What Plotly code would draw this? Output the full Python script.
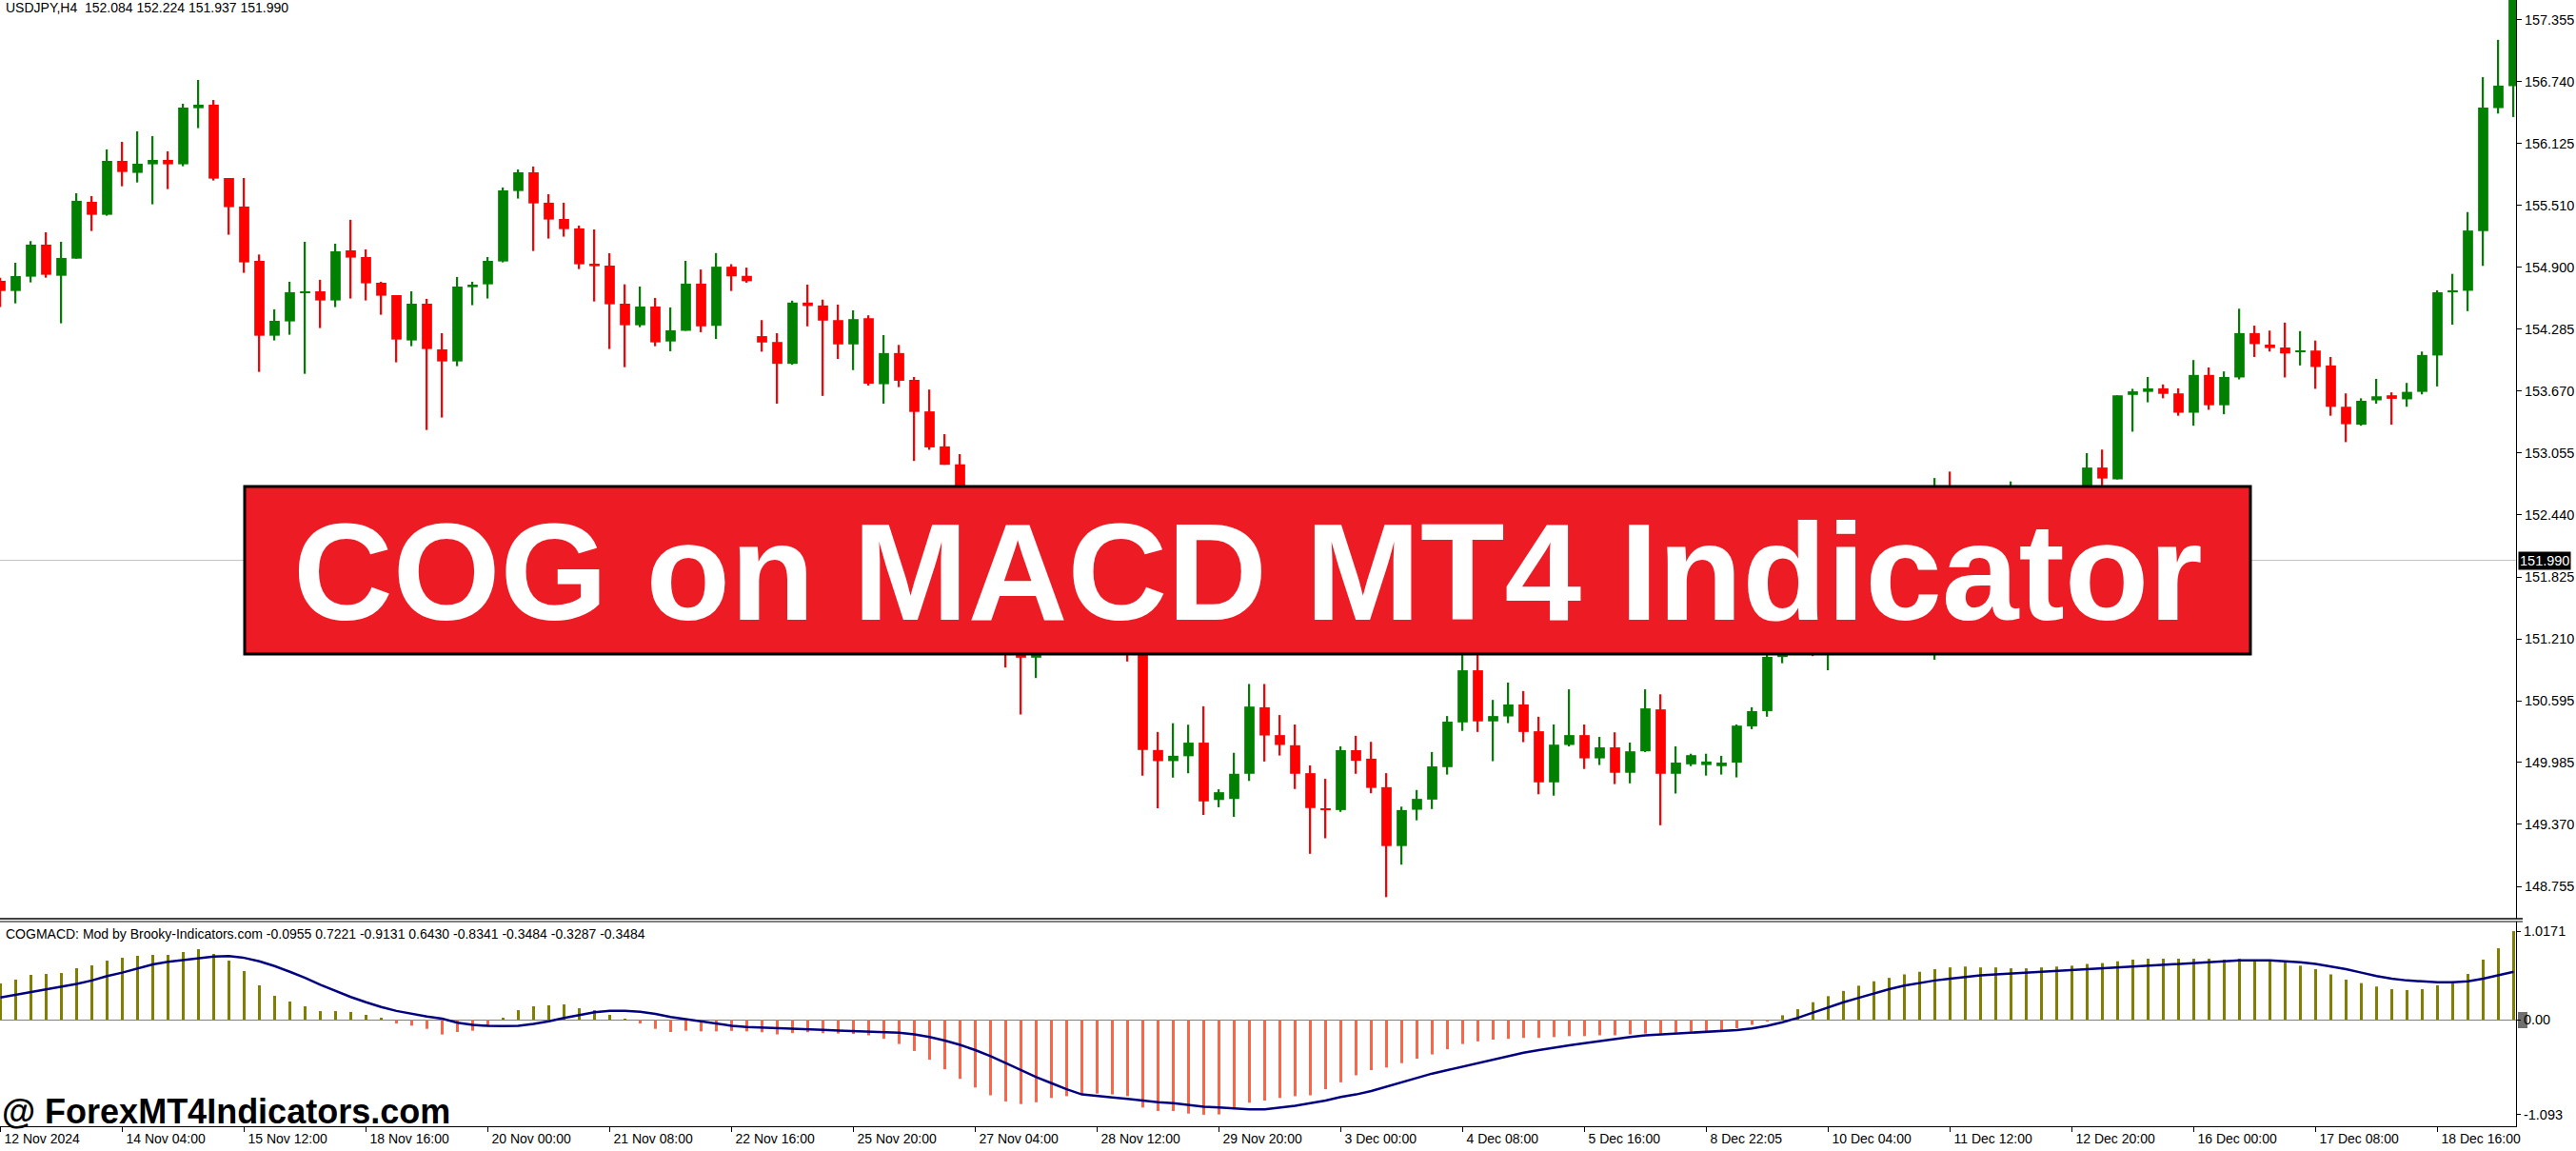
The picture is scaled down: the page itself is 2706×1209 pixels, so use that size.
import plotly.graph_objects as go

W, H = 2706, 1209

# ---------------- data (USDJPY H4) ----------------
opens = [154.764,154.663,154.805,155.123,154.814,154.984,155.548,155.419,155.954,155.835,
155.920,155.964,155.920,156.477,156.512,155.784,155.501,154.962,154.219,154.361,
154.644,154.660,154.569,155.066,155.000,154.745,154.622,154.172,154.537,154.084,
153.964,154.701,154.729,154.956,155.655,155.841,155.539,155.378,155.284,154.934,
154.915,154.537,154.323,154.509,154.162,154.268,154.736,154.317,154.904,154.813,
154.215,154.157,153.940,154.548,154.519,154.374,154.133,154.393,153.738,154.047,
153.781,153.468,153.121,152.943,152.550,152.100,151.550,151.250,151.024,151.350,
151.550,151.400,151.620,151.450,151.300,151.120,150.108,149.998,150.046,150.181,
149.612,149.622,149.872,150.532,150.256,150.155,149.878,149.529,149.512,150.106,
150.022,149.739,149.155,149.515,149.616,149.938,150.382,150.899,150.392,150.441,
150.560,150.294,149.787,150.158,150.256,150.025,150.134,149.882,150.095,150.511,
149.872,149.966,149.959,149.948,149.983,150.343,150.494,151.030,151.350,151.550,
151.300,151.600,151.850,151.700,151.950,152.150,151.950,151.700,152.450,152.200,
152.400,152.200,152.350,152.550,152.300,152.450,152.350,152.500,152.911,152.793,
153.632,153.662,153.697,153.647,153.455,153.830,153.529,153.805,154.245,154.131,
154.102,154.057,154.072,153.924,153.514,153.336,153.578,153.628,153.588,153.662,
154.023,154.655,154.665,155.258,156.478,156.696]
highs = [154.795,154.943,155.158,155.246,155.151,155.633,155.605,156.068,156.143,156.247,
156.200,156.049,156.521,156.757,156.559,155.784,155.784,155.025,154.481,154.755,
155.151,154.774,155.132,155.369,155.076,154.755,154.622,154.660,154.585,154.244,
154.802,154.755,155.000,155.690,155.869,155.898,155.624,155.539,155.312,155.274,
155.038,154.729,154.707,154.594,154.500,154.962,154.876,155.039,154.929,154.895,
154.374,154.244,154.567,154.726,154.577,154.528,154.471,154.422,154.225,154.128,
153.810,153.685,153.242,153.044,152.620,152.200,151.700,151.400,151.450,151.650,
151.700,151.750,151.800,151.580,151.420,151.250,150.287,150.374,150.359,150.542,
149.718,150.080,150.763,150.763,150.455,150.361,149.955,149.822,150.144,150.249,
150.189,149.878,149.546,149.711,150.088,150.445,151.200,151.250,150.605,150.777,
150.693,150.438,150.361,150.710,150.361,150.238,150.284,150.182,150.710,150.661,
150.144,150.071,150.071,150.050,150.361,150.532,151.150,151.450,151.700,151.650,
151.750,151.950,151.980,152.100,152.300,152.250,152.050,152.807,152.871,152.550,
152.500,152.500,152.773,152.650,152.600,152.550,152.650,153.054,153.089,153.628,
153.692,153.810,153.736,153.697,153.978,153.904,153.865,154.487,154.319,154.270,
154.349,154.265,154.171,154.008,153.647,153.598,153.791,153.657,153.751,154.062,
154.670,154.833,155.446,156.785,157.155,157.700]
lows = [154.503,154.540,154.748,154.795,154.342,154.984,155.258,155.410,155.702,155.740,
155.523,155.674,155.901,156.279,155.759,155.221,154.843,153.860,154.172,154.229,
153.841,154.295,154.503,154.588,154.569,154.427,153.955,154.115,153.284,153.407,
153.917,154.522,154.588,154.947,155.580,155.060,155.183,155.202,154.880,154.559,
154.087,153.907,154.304,154.115,154.065,154.268,154.254,154.186,154.663,154.745,
154.061,153.545,153.931,154.312,153.622,153.989,153.878,153.724,153.545,153.709,
152.976,153.087,152.938,152.450,152.000,151.450,150.927,150.460,150.822,151.250,
151.300,151.350,151.360,151.200,150.986,149.853,149.530,149.834,149.877,149.463,
149.540,149.444,149.801,149.994,150.053,149.721,149.078,149.232,149.494,149.872,
149.679,148.648,148.970,149.410,149.522,149.864,150.298,150.287,149.997,150.375,
150.186,149.669,149.655,150.144,149.920,149.959,149.770,149.777,150.088,149.361,
149.676,149.948,149.854,149.864,149.836,150.315,150.438,150.969,151.250,151.040,
150.899,151.500,151.600,151.620,151.850,151.800,151.550,151.004,152.050,152.100,
152.050,152.100,152.250,152.200,152.200,152.250,152.300,152.450,152.733,152.793,
153.267,153.558,153.598,153.425,153.326,153.484,153.440,153.786,154.008,154.062,
153.805,153.924,153.692,153.425,153.163,153.326,153.544,153.336,153.514,153.637,
153.716,154.329,154.463,154.912,156.424,156.389]
closes = [154.663,154.811,155.123,154.824,154.991,155.558,155.419,155.954,155.844,155.926,
155.964,155.920,156.483,156.512,155.778,155.495,154.947,154.219,154.367,154.651,
154.660,154.569,155.057,154.994,154.739,154.616,154.181,154.537,154.087,153.964,
154.707,154.726,154.962,155.661,155.841,155.532,155.372,155.277,154.928,154.909,
154.531,154.323,154.509,154.153,154.273,154.736,154.312,154.904,154.808,154.760,
154.152,153.940,154.548,154.514,154.369,154.133,154.384,153.743,154.047,153.772,
153.463,153.111,152.938,152.550,152.100,151.550,151.200,151.024,151.350,151.550,
151.400,151.620,151.450,151.300,151.120,150.108,149.998,150.051,150.181,149.598,
149.689,149.872,150.539,150.252,150.158,149.872,149.532,149.512,150.106,150.001,
149.732,149.155,149.512,149.623,149.945,150.389,150.899,150.392,150.445,150.560,
150.287,149.787,150.161,150.256,150.025,150.134,149.882,150.095,150.521,149.872,
149.983,150.057,149.994,149.983,150.350,150.494,151.032,151.350,151.550,151.300,
151.600,151.850,151.700,151.950,152.150,151.950,151.700,152.450,152.200,152.400,
152.200,152.350,152.550,152.300,152.450,152.350,152.500,152.911,152.802,153.628,
153.667,153.697,153.642,153.455,153.830,153.529,153.810,154.245,154.136,154.097,
154.043,154.072,153.909,153.514,153.341,153.573,153.618,153.593,153.662,154.028,
154.650,154.670,155.263,156.483,156.701,157.620]

# COG on MACD histogram and signal line
hist = [0.416,0.460,0.514,0.525,0.536,0.591,0.624,0.678,0.711,0.733,
0.744,0.744,0.777,0.810,0.755,0.678,0.558,0.394,0.274,0.208,
0.153,0.098,0.098,0.088,0.055,0.022,-0.044,-0.069,-0.106,-0.171,
-0.142,-0.128,-0.080,0.022,0.109,0.153,0.164,0.175,0.131,0.109,
0.055,0.005,-0.044,-0.106,-0.142,-0.128,-0.135,-0.135,-0.130,-0.135,
-0.145,-0.170,-0.155,-0.145,-0.155,-0.160,-0.165,-0.180,-0.220,-0.280,
-0.360,-0.460,-0.570,-0.680,-0.780,-0.870,-0.940,-0.970,-0.950,-0.900,
-0.880,-0.860,-0.850,-0.860,-0.880,-1.010,-1.050,-1.050,-1.080,-1.093,
-1.090,-1.030,-0.955,-0.930,-0.900,-0.880,-0.870,-0.800,-0.720,-0.640,
-0.580,-0.550,-0.500,-0.450,-0.400,-0.340,-0.280,-0.250,-0.230,-0.220,
-0.210,-0.210,-0.200,-0.190,-0.190,-0.180,-0.180,-0.170,-0.160,-0.160,
-0.150,-0.140,-0.130,-0.120,-0.100,-0.060,-0.020,0.050,0.120,0.200,
0.270,0.330,0.390,0.440,0.480,0.520,0.550,0.580,0.600,0.610,
0.600,0.600,0.590,0.590,0.600,0.610,0.620,0.640,0.650,0.670,
0.690,0.700,0.700,0.700,0.700,0.700,0.690,0.700,0.690,0.680,
0.660,0.620,0.580,0.520,0.460,0.420,0.380,0.350,0.340,0.350,
0.394,0.440,0.525,0.690,0.820,1.0171]
signal = [0.255,0.285,0.315,0.345,0.375,0.410,0.450,0.500,0.540,0.585,
0.635,0.665,0.685,0.705,0.725,0.730,0.710,0.670,0.615,0.550,
0.480,0.400,0.330,0.260,0.200,0.145,0.100,0.065,0.035,0.010,
-0.035,-0.060,-0.072,-0.074,-0.072,-0.050,-0.020,0.020,0.055,0.085,
0.100,0.102,0.090,0.065,0.030,0.005,-0.025,-0.050,-0.070,-0.085,
-0.091,-0.095,-0.098,-0.108,-0.118,-0.125,-0.130,-0.135,-0.140,-0.150,
-0.170,-0.200,-0.240,-0.290,-0.350,-0.420,-0.500,-0.580,-0.660,-0.730,
-0.800,-0.860,-0.880,-0.895,-0.910,-0.930,-0.950,-0.960,-0.980,-1.000,
-1.010,-1.020,-1.030,-1.030,-1.010,-0.990,-0.960,-0.930,-0.890,-0.860,
-0.820,-0.770,-0.720,-0.670,-0.620,-0.580,-0.540,-0.500,-0.460,-0.420,
-0.380,-0.350,-0.320,-0.295,-0.270,-0.245,-0.220,-0.200,-0.180,-0.170,
-0.160,-0.150,-0.140,-0.130,-0.120,-0.100,-0.070,-0.030,0.020,0.080,
0.140,0.200,0.250,0.300,0.350,0.390,0.420,0.450,0.470,0.490,
0.510,0.520,0.530,0.540,0.550,0.560,0.570,0.580,0.590,0.600,
0.610,0.620,0.630,0.640,0.650,0.660,0.670,0.680,0.680,0.680,
0.670,0.660,0.640,0.610,0.580,0.540,0.500,0.470,0.450,0.440,
0.430,0.430,0.440,0.470,0.510,0.550]

time_label_bars = [0, 8, 16, 24, 32, 40, 48, 56, 64, 72, 80, 88, 96, 104, 112, 120, 128, 136, 144, 152, 160]
time_labels = ["12 Nov 2024", "14 Nov 04:00", "15 Nov 12:00", "18 Nov 16:00", "20 Nov 00:00",
               "21 Nov 08:00", "22 Nov 16:00", "25 Nov 20:00", "27 Nov 04:00", "28 Nov 12:00",
               "29 Nov 20:00", "3 Dec 00:00", "4 Dec 08:00", "5 Dec 16:00", "8 Dec 22:05",
               "10 Dec 04:00", "11 Dec 12:00", "12 Dec 20:00", "16 Dec 00:00", "17 Dec 08:00",
               "18 Dec 16:00"]
price_ticks = [157.355, 156.740, 156.125, 155.510, 154.900, 154.285, 153.670, 153.055,
               152.440, 151.825, 151.210, 150.595, 149.985, 149.370, 148.755]
ind_ticks = [1.0171, 0.0, -1.093]
ind_tick_text = ["1.0171", "0.00", "-1.093"]
current_price = 151.990
header_text = "USDJPY,H4  152.084 152.224 151.937 151.990"
ind_text = ("COGMACD: Mod by Brooky-Indicators.com -0.0955 0.7221 -0.9131 0.6430 "
            "-0.8341 -0.3484 -0.3287 -0.3484")
banner_text = "COG on MACD MT4 Indicator"
watermark = "@ ForexMT4Indicators.com"

# ---------------- layout helpers ----------------
def fx(p):
    return p / W

def fy(p):
    return 1 - p / H

UI = "Liberation Sans, Arial, sans-serif"
GREEN, RED = "#008000", "#FF0000"

n = len(opens)
xs = list(range(n))
cols = [GREEN if c >= o else RED for o, c in zip(opens, closes)]
body_lo = [min(o, c) for o, c in zip(opens, closes)]
body_h = [max(abs(c - o), 0.012) for o, c in zip(opens, closes)]
wick_h = [h - l for h, l in zip(highs, lows)]
hcols = ["#808000" if v >= 0 else "#FF6347" for v in hist]

fig = go.Figure()
fig.add_trace(go.Bar(x=xs, y=wick_h, base=lows, width=0.09, marker=dict(color=cols, line=dict(width=0)),
                     xaxis="x", yaxis="y", hoverinfo="skip"))
fig.add_trace(go.Bar(x=xs, y=body_h, base=body_lo, width=0.67, marker=dict(color=cols, line=dict(width=0)),
                     xaxis="x", yaxis="y", hoverinfo="skip"))
fig.add_trace(go.Bar(x=xs, y=hist, width=0.19, marker=dict(color=hcols, line=dict(width=0)),
                     xaxis="x2", yaxis="y2", hoverinfo="skip"))
fig.add_trace(go.Scatter(x=xs, y=signal, mode="lines", line=dict(color="#000080", width=2.5),
                         xaxis="x2", yaxis="y2", hoverinfo="skip"))

px_per_unit = 105.85
y_top = 157.355 + 20.7 / px_per_unit
y_bot = 157.355 - (965 - 20.7) / px_per_unit
ind_ppu = 91.4
i_top = (1071 - 968) / ind_ppu
i_bot = -(1183 - 1071) / ind_ppu
x_rng = [-0.5 / 16, (2643 - 0.5) / 16]
xdom = [0, fx(2643)]

fig.update_layout(
    width=W, height=H, margin=dict(l=0, r=0, t=0, b=0, autoexpand=False),
    paper_bgcolor="white", plot_bgcolor="white", showlegend=False,
    barmode="overlay",
    xaxis=dict(domain=xdom, range=x_rng, showticklabels=False, showgrid=False, zeroline=False,
               showline=False, ticks="", anchor="y"),
    yaxis=dict(domain=[fy(965), 1], range=[y_bot, y_top], side="right", anchor="x",
               tickvals=price_ticks, ticktext=[f"{v:.3f}" for v in price_ticks],
               ticks="outside", ticklen=5, tickcolor="black", showgrid=False, zeroline=False,
               showline=True, linecolor="black", linewidth=1,
               tickfont=dict(family=UI, size=14.5, color="black")),
    xaxis2=dict(domain=xdom, range=x_rng, matches="x", anchor="y2",
                tickvals=time_label_bars, ticktext=time_labels, ticks="outside", ticklen=5,
                tickcolor="black", ticklabelposition="outside right", ticklabelshift=3,
                showgrid=False, zeroline=False,
                showline=True, linecolor="black", linewidth=1,
                tickfont=dict(family=UI, size=14, color="black")),
    yaxis2=dict(domain=[fy(1183), fy(968)], range=[i_bot, i_top], side="right", anchor="x2",
                tickvals=ind_ticks, ticktext=ind_tick_text, ticks="outside", ticklen=4,
                tickcolor="black", showgrid=False, zeroline=True, zerolinecolor="#808080",
                zerolinewidth=1, showline=True, linecolor="black", linewidth=1,
                tickfont=dict(family=UI, size=14.5, color="black")),
)

shapes = [
    dict(type="line", xref="x", yref="y", x0=x_rng[0], x1=x_rng[1], y0=current_price, y1=current_price,
         line=dict(color="#C0C0C0", width=1)),
    dict(type="line", xref="paper", yref="paper", x0=0, x1=fx(2650), y0=fy(965), y1=fy(965),
         line=dict(color="black", width=1.5)),
    dict(type="line", xref="paper", yref="paper", x0=0, x1=fx(2650), y0=fy(968), y1=fy(968),
         line=dict(color="black", width=1)),
    dict(type="rect", xref="paper", yref="paper", x0=fx(2645), x1=fx(2655), y0=fy(1080), y1=fy(1063),
         fillcolor="#707070", line=dict(width=0), layer="below"),
    dict(type="rect", xref="paper", yref="paper", x0=fx(257), x1=fx(2364), y0=fy(687), y1=fy(511),
         fillcolor="#ED1C24", line=dict(color="black", width=3), layer="above"),
]
fig.update_layout(shapes=shapes)

ann = [
    dict(text=header_text, x=fx(4), y=fy(8), xref="paper", yref="paper", xanchor="left", yanchor="middle",
         showarrow=False, font=dict(family=UI, size=14, color="black")),
    dict(text=ind_text, x=fx(4), y=fy(981), xref="paper", yref="paper", xanchor="left", yanchor="middle",
         showarrow=False, font=dict(family=UI, size=14, color="black")),
    dict(text=watermark, x=fx(0), y=fy(1167), xref="paper", yref="paper", xanchor="left", yanchor="middle",
         showarrow=False, font=dict(family=UI, size=36, color="black", weight="bold")),
    dict(text=f"{current_price:.3f}", x=fx(2645), y=current_price, xref="paper", yref="y",
         xanchor="left", yanchor="middle", showarrow=False, bgcolor="black", borderpad=1,
         font=dict(family=UI, size=14.5, color="white")),
    dict(text=banner_text, x=fx(1311), y=fy(601), xref="paper", yref="paper", xanchor="center",
         yanchor="middle", showarrow=False,
         font=dict(family=UI, size=145, color="white", weight="bold")),
]
fig.update_layout(annotations=ann)

fig.write_html("out.html", config={"displayModeBar": False},
               post_script="document.body.style.margin='0px';document.body.style.overflow='hidden';")
